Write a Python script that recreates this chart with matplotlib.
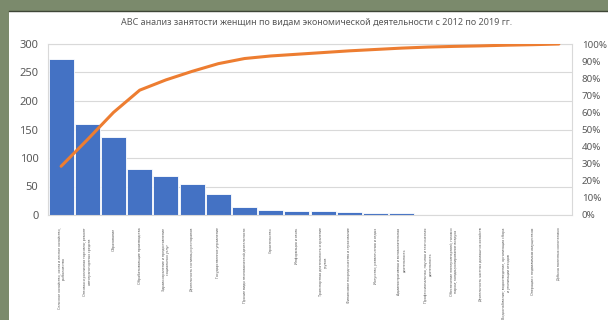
import numpy as np
import matplotlib.pyplot as plt
from matplotlib.patches import Rectangle
from matplotlib.ticker import PercentFormatter

plt.rcParams['font.family'] = ['Noto Sans', 'DejaVu Sans']

title = "ABC анализ занятости женщин по видам экономической деятельности с 2012 по 2019 гг."

categories = [
  "Сельское хозяйство, охота и лесное хозяйство,\nрыболовство",
  "Оптовая и розничная торговля; ремонт\nавтотранспортных средств",
  "Образование",
  "Обрабатывающие производства",
  "Здравоохранение и предоставление\nсоциальных услуг",
  "Деятельность гостиниц и ресторанов",
  "Государственное управление",
  "Прочие виды экономической деятельности",
  "Строительство",
  "Информация и связь",
  "Транспортная деятельность и хранение\nгрузов",
  "Финансовое посредничество и страхование",
  "Искусство, развлечения и отдых",
  "Административная и вспомогательная\nдеятельность",
  "Профессиональная, научная и техническая\nдеятельность",
  "Обеспечение электроэнергией, газом и\nпаром; кондиционирование воздуха",
  "Деятельность частных домашних хозяйств",
  "Водоснабжение; водоотведение, организация сбора\nи утилизации отходов",
  "Операции с недвижимым имуществом",
  "Добыча полезных ископаемых",
]

# employed women (left axis)
counts = [273, 160, 136, 81, 69, 54, 36, 14, 9, 7, 7, 4.7, 3.5, 3, 0.4, 0.3, 0.3, 0.2, 0.2, 0.1]
# cumulative share, % (right axis)
cum_pct = [28.5, 44, 60, 73, 79, 84, 88.5, 91.5, 93, 94, 95, 96, 96.8, 97.6, 98.2, 98.6, 98.9, 99.3, 99.6, 100]

fig = plt.figure(figsize=(6.08, 3.2), dpi=100)
fig.patch.set_facecolor('#7b8a6c')
# white slide panel
fig.patches.append(Rectangle((9/608, 0), 1, 1 - 11/320, transform=fig.transFigure,
                             facecolor='white', edgecolor='none', zorder=-1))
fig.lines.append(plt.Line2D([9/608, 1], [1 - 11/320, 1 - 11/320], transform=fig.transFigure,
                            color='#3e4636', lw=1.0))

ax = fig.add_axes([48/608, 1 - 215/320, 524/608, 171/320])
x = np.arange(len(categories))
ax.bar(x, counts, width=0.95, color='#4472c4', edgecolor='white', linewidth=0.6)
ax.set_xlim(-0.5, len(categories) - 0.5)
ax.set_ylim(0, 300)
ax.set_yticks(np.arange(0, 301, 50))
ax.yaxis.grid(True, color='#d9d9d9', lw=0.8)
ax.set_axisbelow(True)
ax.set_xticks(x)
ax.set_xticklabels(categories, rotation=90, fontsize=2.6, color='#8c8c8c',
                   va='top', ha='center', multialignment='center')
ax.tick_params(axis='both', length=0, colors='#595959')
ax.tick_params(axis='y', labelsize=8, pad=7)
ax.tick_params(axis='x', pad=9)
for s in ax.spines.values():
  s.set_color('#d9d9d9')
  s.set_linewidth(0.8)

ax2 = ax.twinx()
ax2.plot(x, np.array(cum_pct) / 100, color='#ed7d31', lw=2.2, solid_capstyle='round')
ax2.set_ylim(0, 1)
ax2.set_yticks(np.arange(0, 1.01, 0.1))
ax2.yaxis.set_major_formatter(PercentFormatter(1.0, decimals=0))
ax2.tick_params(axis='y', length=0, labelsize=7, colors='#595959', pad=7)
for s in ax2.spines.values():
  s.set_visible(False)

fig.text(0.52, 1 - 22/320, title, ha='center', va='center', fontsize=6.5, color='#595959')

fig.savefig("out.png", dpi=100, facecolor=fig.get_facecolor())
